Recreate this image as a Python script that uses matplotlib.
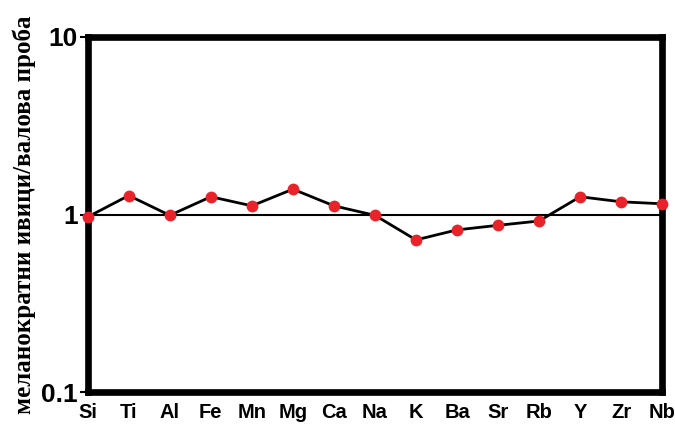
import numpy as np
import matplotlib.pyplot as plt

elements = ["Si", "Ti", "Al", "Fe", "Mn", "Mg", "Ca", "Na", "K", "Ba", "Sr", "Rb", "Y", "Zr", "Nb"]
ratio = [0.97, 1.28, 0.99, 1.26, 1.12, 1.39, 1.12, 0.99, 0.72, 0.82, 0.87, 0.92, 1.26, 1.18, 1.15]

fig = plt.figure(figsize=(6.75, 4.3), dpi=100)
ax = fig.add_axes([0.130, 0.088, 0.851, 0.826])

x = np.arange(len(elements))
ax.axhline(1, color="black", lw=1.5, zorder=1)
ax.plot(x, ratio, color="black", lw=2, zorder=2, clip_on=False)
ax.plot(x, ratio, "o", color="#e8232a", ms=8.5, mec="none", zorder=3, clip_on=False)

ax.set_yscale("log")
ax.set_ylim(0.1, 10)
ax.set_xlim(0, len(elements) - 1)
ax.set_yticks([0.1, 1, 10])
ax.set_yticklabels(["0.1", "1", "10"], fontsize=19, fontweight="bold", family="Liberation Sans")
ax.yaxis.set_minor_locator(plt.NullLocator())
ax.tick_params(axis="y", length=6, width=1.5, pad=1)
ax.set_xticks(x)
ax.set_xticklabels(elements, fontsize=14.5, fontweight="bold", family="Liberation Sans")
ax.tick_params(axis="x", length=0, pad=8)

for s in ax.spines.values():
    s.set_linewidth(4.8)

ax.set_ylabel("меланократни ивици/валова проба", fontsize=18, fontweight="bold",
              family="Liberation Serif", labelpad=4)

plt.savefig("out.png")
